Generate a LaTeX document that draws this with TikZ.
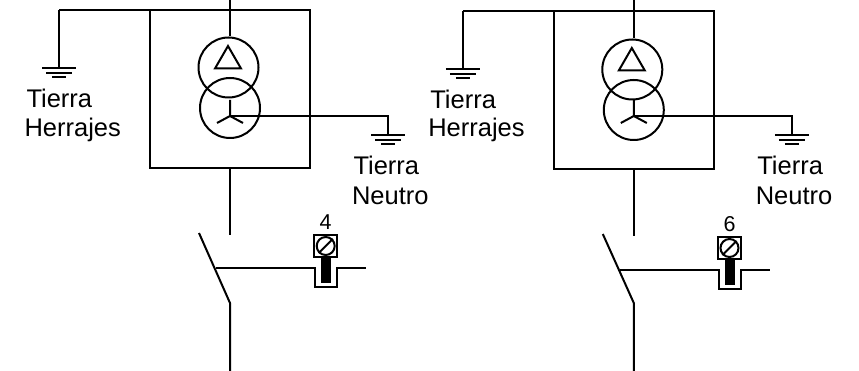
\documentclass[tikz,border=0pt]{standalone}
\usepackage{fontspec}
\setmainfont{Liberation Sans}
\tikzset{
  lbl/.style={anchor=base west,inner sep=0pt,font=\fontsize{25.5}{29}\selectfont},
  wind/.style={draw,circle,minimum size=60pt,inner sep=0pt}
}
\newcommand{\earth}[1]{
  \draw (#1) +(-17,0) -- +(17,0) +(-13,5) -- +(13,5) +(-7,9.5) -- +(7,9.5);
}
\begin{document}
\begin{tikzpicture}[x=1pt,y=-1pt,line width=2pt]
  \useasboundingbox (0,0) rectangle (859,371);
  \foreach \u/\dx/\dy/\num in {a/0/0/4, b/403.8/1/6}{
    \scope[xshift=\dx pt]
    % tank and bus
    \node[draw,minimum width=160pt,minimum height=158pt,inner sep=0pt] (box\u) at (230,89+\dy) {};
    \coordinate (feed\u) at (230,-2);
    \coordinate (busl\u) at (59,10+\dy);
    \coordinate (busr\u) at (310,10+\dy);
    \draw (busl\u) -- (busr\u);
    % transformer
    \node[wind] (delta\u) at (228.5,67.5+2*\dy) {};
    \node[wind] (wye\u) at (230,108+2*\dy) {};
    \draw (delta\u.north -| feed\u) -- (feed\u);
    \draw (228,46+2*\dy) -- (215,68.5+2*\dy) -- (241,68.5+2*\dy) -- cycle;
    \coordinate (star\u) at (230,116);
    \draw (star\u) -- (230,100) (star\u) -- (217,123) (star\u) -- (243,123);
    % earths
    \coordinate (gh\u) at (59,68+\dy);
    \coordinate (gn\u) at (388,135);
    \draw (busl\u) -- (gh\u);
    \draw (star\u) -| (gn\u);
    \earth{gh\u}
    \earth{gn\u}
    \node[lbl] (th\u) at (25.5,108+\dy) {Tierra};
    \node[lbl] (hh\u) at (23.5,137) {Herrajes};
    \node[lbl] (tn\u) at (352.5,175) {Tierra};
    \node[lbl] (nn\u) at (351,205) {Neutro};
    % switch
    \coordinate (swtop\u) at (230,235+\dy);
    \coordinate (swbot\u) at (230,303);
    \coordinate (blade\u) at (199,233+\dy);
    \coordinate (swout\u) at (230,373);
    \draw (box\u.south -| swtop\u) -- (swtop\u);
    \draw (blade\u) -- (swbot\u) -- (swout\u);
    % meter
    \scope[yshift=-2*\dy pt]
    \coordinate (tap\u) at (216,268);
    \draw (tap\u) -- (315,268) -- (315,287) -- (337,287) -- (337,268) -- (366,268);
    \fill (321,258) rectangle (331,283);
    \node[draw,minimum width=23pt,minimum height=22pt,inner sep=0pt] (term\u) at (325.7,246) {};
    \node[draw,circle,minimum size=18pt,inner sep=0pt] (screw\u) at (term\u) {};
    \draw (screw\u.225) -- (screw\u.45);
    \node[inner sep=0pt,font=\fontsize{21.5}{24}\selectfont] (tag\u) at (325.7,222) {\num};
    \endscope
    \endscope
  }
\end{tikzpicture}
\end{document}
